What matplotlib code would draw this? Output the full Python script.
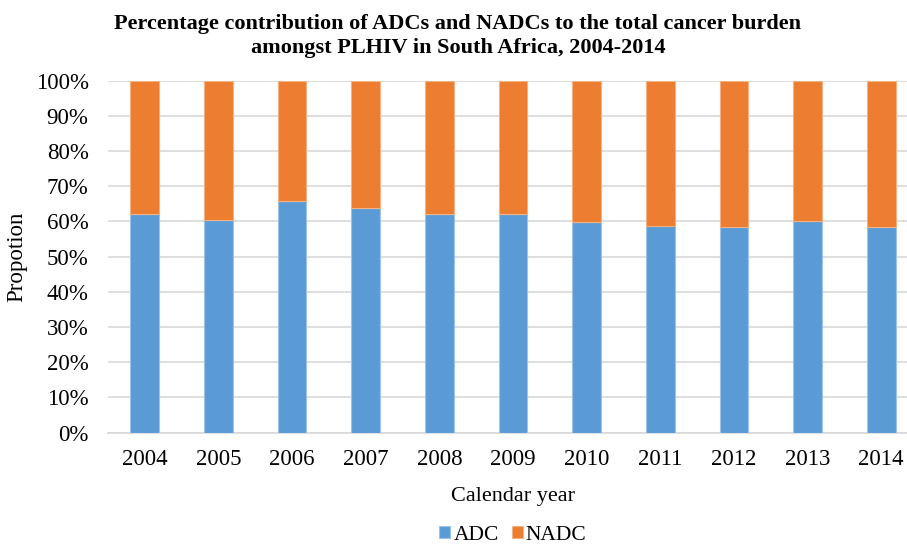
import matplotlib.pyplot as plt
from matplotlib.ticker import PercentFormatter

years = ['2004', '2005', '2006', '2007', '2008', '2009', '2010', '2011', '2012', '2013', '2014']
adc = [62.0, 60.5, 65.7, 63.9, 62.0, 62.0, 59.9, 58.7, 58.4, 60.1, 58.4]
nadc = [100 - v for v in adc]

plt.rcParams['font.family'] = ['Liberation Serif', 'DejaVu Serif']

fig = plt.figure(figsize=(9.07, 5.46), dpi=100)
# axes runs a bit past the right edge, like the cropped original
ax = fig.add_axes([108 / 907, 0.2075, 810 / 907, 0.645])

x = range(len(years))
ax.bar(x, adc, width=0.39, color='#5B9BD5', edgecolor='#9DC3E6', linewidth=0.8, label='ADC', zorder=3)
ax.bar(x, nadc, width=0.39, bottom=adc, color='#ED7D31', edgecolor='#F4B183', linewidth=0.8, label='NADC', zorder=3)

ax.set_xlim(-0.5, 10.5)
ax.set_ylim(0, 100)
ax.set_yticks(range(0, 101, 10))
ax.yaxis.set_major_formatter(PercentFormatter(decimals=0))
ax.set_xticks(list(x))
ax.set_xticklabels(years)
ax.tick_params(axis='both', length=0, labelsize=16.5, colors='#000000')
ax.tick_params(axis='x', pad=12)
ax.tick_params(axis='y', pad=14)
ax.grid(axis='y', color='#D9D9D9', linewidth=1.2, zorder=0)
for s in ['top', 'right', 'left']:
    ax.spines[s].set_visible(False)
ax.spines['bottom'].set_color('#D9D9D9')
ax.spines['bottom'].set_linewidth(1.2)

ax.set_xlabel('Calendar year', fontsize=16, labelpad=12)
ax.set_ylabel('Propotion', fontsize=16.5)
ax.yaxis.set_label_coords(-0.1, 0.5)

fig.text(458 / 907, 1 - 36 / 546,
         'Percentage contribution of ADCs and NADCs to the total cancer burden\namongst PLHIV in South Africa, 2004-2014',
         ha='center', va='center', fontsize=16, fontweight='bold', linespacing=1.2)

fig.legend(loc='center', bbox_to_anchor=(513 / 907, 1 - 535 / 546), ncol=2, frameon=False,
           fontsize=15.5, handlelength=0.5, handleheight=0.5, handletextpad=0.15, columnspacing=0.6)

fig.savefig('out.png', dpi=100)
